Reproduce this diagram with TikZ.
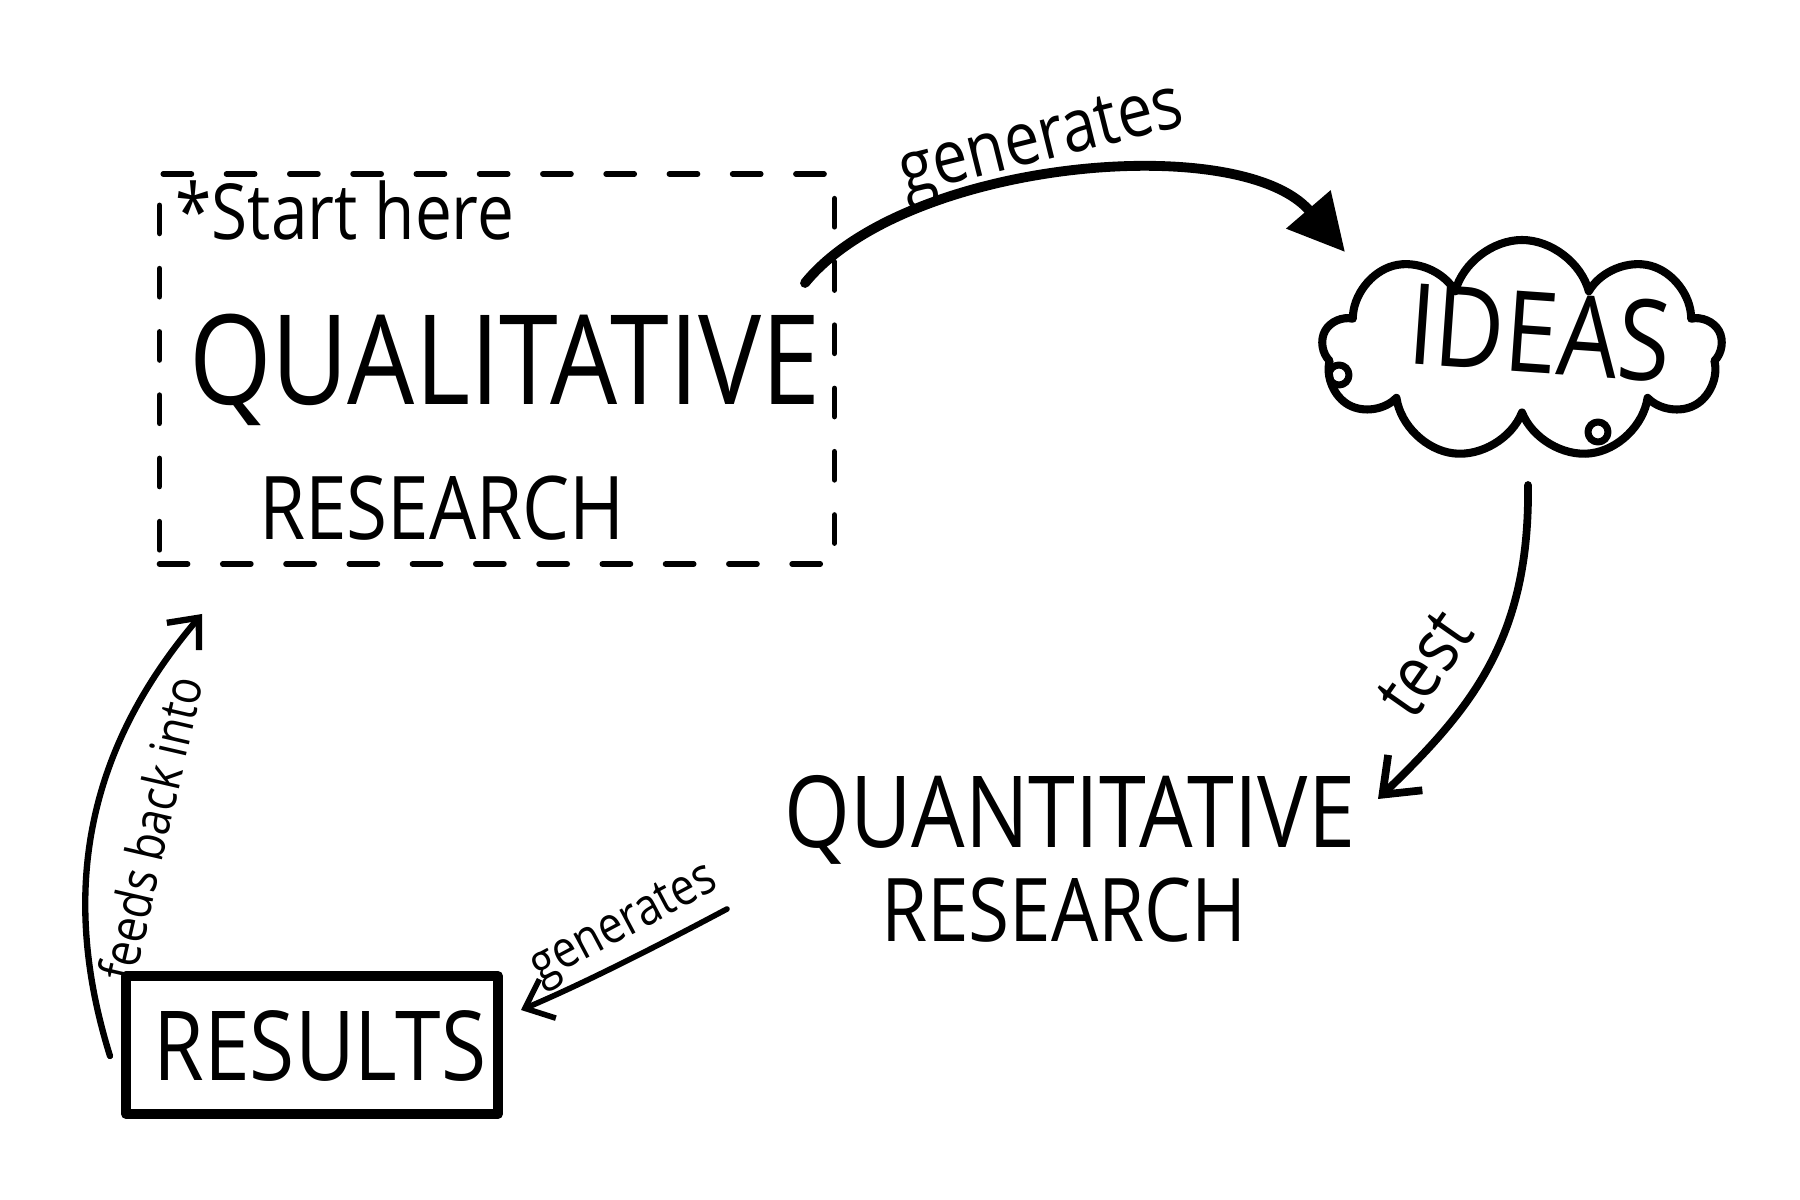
\documentclass[tikz,border=0pt]{standalone}
\usepackage{fontspec}
\setmainfont{Open Sans}
\newfontfamily\hand[FakeStretch=0.85]{Open Sans}
\usetikzlibrary{positioning,arrows.meta,shapes.symbols}

\begin{document}
\begin{tikzpicture}[line cap=round,line join=round,
  big/.style={font=\hand\fontsize{35.5}{38}\selectfont,anchor=base},
  mid/.style={font=\hand\fontsize{28.3}{30}\selectfont,anchor=base},
  small/.style={font=\hand\fontsize{25}{28}\selectfont,anchor=base},
  lbl/.style={font=\hand\fontsize{21}{24}\selectfont},
  tiny/.style={font=\hand\fontsize{14.7}{16}\selectfont},
  thin/.style={line width=1.6pt,-{Straight Barb[length=7pt,width=12pt]}}]
\useasboundingbox[fill=white] (0,0) rectangle (18,12);

\node[draw,line width=1.6pt,dash pattern=on 8pt off 10pt,minimum width=6.75cm,minimum height=3.9cm] (qualbox) at (4.97,8.31) {};
\node[font=\hand\fontsize{22}{24}\selectfont,anchor=base] (start) at (3.45,9.6) {*Start here};
\node[big] (qual) at (5.05,7.95) {QUALITATIVE};
\node[small] (qualres) at (4.42,6.6) {RESEARCH};

\node[cloud,cloud puffs=9,aspect=1.8,draw,line width=2.3pt,minimum width=4.0cm,minimum height=2.2cm] (ideas) at (15.22,8.5) {};
\node[font=\hand\fontsize{32}{34}\selectfont,anchor=base,rotate=-4] (ideastext) at (15.37,8.27) {IDEAS};
\draw[line width=2pt] (13.39,8.25) circle (0.1);
\draw[line width=2pt] (15.98,7.68) circle (0.1);

\node[mid] (quant) at (10.70,3.52) {QUANTITATIVE};
\node[small] (quantres) at (10.64,2.58) {RESEARCH};

\node[draw,line width=2.8pt,minimum width=3.72cm,minimum height=1.38cm] (resbox) at (3.12,1.55) {};
\node[font=\hand\fontsize{27.5}{30}\selectfont,anchor=base] (results) at (3.2,1.19) {RESULTS};

% arrows
\coordinate (a1) at (8.05,9.17);
\coordinate (a2) at (13.45,9.48);
\draw[line width=2.8pt,-{Triangle[length=16pt,width=16pt]}] (a1) .. controls (9.05,10.4) and (12.4,10.7) .. (a2);
\node[lbl,rotate=14] (gen1) at (10.42,10.55) {generates};

\coordinate (b1) at (15.28,7.15);
\coordinate (b2) at (13.78,4.01);
\draw[line width=2.2pt,-{Straight Barb[length=9pt,width=14pt]}] (b1) .. controls (15.3,5.6) and (14.7,4.9) .. (b2);
\node[lbl,rotate=55] (test) at (14.25,5.36) {test};

\coordinate (c1) at (7.27,2.91);
\coordinate (c2) at (5.21,1.90);
\draw[thin] (c1) .. controls (6.5,2.5) and (5.8,2.15) .. (c2);
\node[tiny,rotate=28] (gen2) at (6.25,2.74) {generates};

\coordinate (d1) at (1.10,1.44);
\coordinate (d2) at (2.02,5.86);
\draw[thin,line width=1.8pt] (d1) .. controls (0.55,3.2) and (0.95,4.6) .. (d2);
\node[tiny,rotate=77] (feeds) at (1.5,3.72) {feeds back into};
\end{tikzpicture}
\end{document}
